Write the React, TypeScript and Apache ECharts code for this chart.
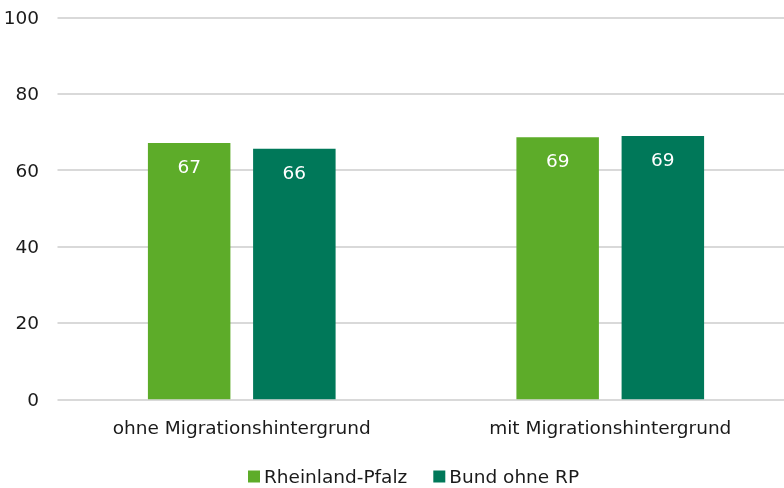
import React, { useEffect, useRef } from "react";
import * as echarts from "echarts";

const categories = ["ohne Migrationshintergrund", "mit Migrationshintergrund"];
const seriesNames = ["Rheinland-Pfalz", "Bund ohne RP"];
const rpValues = [67.1, 68.6];
const bundValues = [65.6, 68.9];
const yTicks = { min: 0, max: 100, interval: 20 };
const colors = ["#5DAC29", "#007859"];

const FONT = "DejaVu Sans";
const TEXT = "#1a1a1a";
const FS = 18.5;

export default function App() {
  const ref = useRef<HTMLDivElement>(null);
  useEffect(() => {
    if (!ref.current) return;
    const chart = echarts.init(ref.current, undefined, { renderer: "svg" });
    const label = {
      show: true,
      position: "insideTop" as const,
      distance: 14,
      color: "#ffffff",
      fontSize: FS,
      fontFamily: FONT,
      formatter: (p: any) => String(Math.round(p.value)),
    };
    chart.setOption({
      animation: false,
      textStyle: { fontFamily: FONT },
      grid: { left: 57.5, top: 17.3, width: 737, height: 382, containLabel: false },
      legend: {
        top: 462,
        left: 243,
        itemWidth: 12,
        itemHeight: 12,
        itemGap: 26,
        icon: "rect",
        textStyle: { fontSize: FS, color: TEXT, fontFamily: FONT, padding: [0, 0, 0, -1] },
        data: seriesNames,
      },
      xAxis: {
        type: "category",
        data: categories,
        axisLine: { show: false },
        axisTick: { show: false },
        axisLabel: { fontSize: FS, color: TEXT, margin: 19, fontFamily: FONT },
      },
      yAxis: {
        type: "value",
        min: yTicks.min,
        max: yTicks.max,
        interval: yTicks.interval,
        axisLine: { show: false },
        axisTick: { show: false },
        axisLabel: { fontSize: FS, color: TEXT, margin: 18.5, fontFamily: FONT },
        splitLine: { lineStyle: { color: "#D9D9D9", width: 2 } },
      },
      series: [
        {
          name: seriesNames[0],
          type: "bar",
          data: rpValues,
          barWidth: 82.5,
          barGap: "27.5%",
          itemStyle: { color: colors[0] },
          label,
        },
        {
          name: seriesNames[1],
          type: "bar",
          data: bundValues,
          barWidth: 82.5,
          barGap: "27.5%",
          itemStyle: { color: colors[1] },
          label,
        },
      ],
    });
    return () => chart.dispose();
  }, []);
  return (
    <div style={{ width: 784, height: 488, overflow: "hidden", position: "fixed", left: 0, top: 0 }}>
      <div ref={ref} style={{ width: 810, height: 488 }} />
    </div>
  );
}
